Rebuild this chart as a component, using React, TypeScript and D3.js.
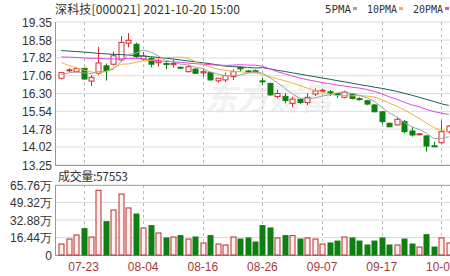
import React from "react";
import * as d3 from "d3";

const dates = ["07-20","07-21","07-22","07-23","07-26","07-27","07-28","07-29","07-30","08-02","08-03","08-04","08-05","08-06","08-09","08-10","08-11","08-12","08-13","08-16","08-17","08-18","08-19","08-20","08-23","08-24","08-25","08-26","08-27","08-30","08-31","09-01","09-02","09-03","09-06","09-07","09-08","09-09","09-10","09-13","09-14","09-15","09-16","09-17","09-22","09-23","09-24","09-27","09-28","09-29","09-30","10-08","10-11"];
const open = [16.95,17.28,17.23,17.37,16.83,17.16,17.48,17.55,17.73,18.45,18.40,17.77,17.80,17.61,17.58,17.53,17.42,17.23,17.34,17.18,17.19,16.84,16.88,17.02,17.42,17.26,17.27,16.84,16.73,16.17,16.18,15.88,16.05,15.91,16.28,16.40,16.37,16.30,16.14,16.28,16.08,15.99,15.81,15.52,15.03,14.96,15.10,14.70,14.55,14.49,14.07,14.20,14.67];
const high = [17.22,17.38,17.42,17.40,17.09,18.28,17.58,18.08,18.75,18.87,18.47,18.08,17.85,17.80,17.66,17.73,17.45,17.52,17.38,17.37,17.22,16.96,17.19,17.33,17.45,17.30,17.32,16.96,16.76,16.45,16.31,16.16,16.08,16.31,16.52,16.50,16.45,16.33,16.42,16.32,16.14,16.03,15.85,15.56,15.06,15.28,15.17,14.88,14.60,14.52,14.24,15.14,14.95];
const low = [16.90,17.22,17.20,16.88,16.62,17.09,16.85,17.49,17.66,18.27,17.82,17.70,17.42,17.45,17.33,17.40,17.35,17.20,17.14,17.02,16.85,16.76,16.78,16.88,17.24,17.18,17.20,16.66,16.20,16.09,15.88,15.71,15.85,15.81,16.19,16.33,16.20,16.10,16.09,16.05,16.00,15.80,15.50,15.00,14.86,14.94,14.60,14.46,14.52,13.82,14.05,14.15,14.60];
const close = [17.19,17.31,17.36,16.92,16.99,17.60,17.28,17.91,18.48,18.57,17.87,17.90,17.55,17.68,17.54,17.58,17.38,17.44,17.16,17.23,16.88,16.95,17.06,17.23,17.35,17.23,17.25,16.80,16.24,16.30,16.00,16.06,15.92,16.14,16.41,16.44,16.34,16.27,16.36,16.09,16.05,15.85,15.52,15.10,14.88,15.20,14.67,14.53,14.58,14.06,14.06,14.67,14.91];
const volume = [10.3,15,18.8,24.7,16.9,60.8,31.3,42.3,57.3,44.2,38.5,25.4,27.6,20.7,16,16.9,18.2,15,16.9,11.3,18.2,10.3,9.4,16.9,15,16,12.2,27.6,25.4,16,18.2,18.2,15,16,15,10.3,11.3,13.1,16.9,16,13.1,9.4,13.1,16,9.4,9.4,15,10.3,7.5,19.1,7.5,16,11.3];
const ma5 = [17.10,17.18,17.22,17.18,17.15,17.24,17.23,17.34,17.65,17.97,18.02,18.15,18.07,17.91,17.71,17.65,17.55,17.52,17.42,17.36,17.22,17.13,17.06,17.07,17.09,17.16,17.22,17.17,16.97,16.76,16.52,16.28,16.10,16.08,16.11,16.19,16.25,16.32,16.36,16.30,16.22,16.12,15.97,15.72,15.48,15.31,15.07,14.88,14.77,14.61,14.38,14.38,14.46];
const ma10 = [17.62,17.50,17.40,17.30,17.22,17.17,17.24,17.40,17.55,17.56,17.63,17.69,17.71,17.78,17.84,17.84,17.85,17.80,17.67,17.53,17.43,17.34,17.29,17.25,17.23,17.19,17.18,17.11,17.02,16.93,16.84,16.75,16.64,16.53,16.44,16.36,16.27,16.21,16.22,16.20,16.21,16.19,16.15,16.04,15.89,15.77,15.60,15.43,15.25,15.04,14.85,14.73,14.67];
const ma20 = [17.86,17.85,17.84,17.82,17.80,17.80,17.78,17.78,17.78,17.80,17.80,17.78,17.72,17.69,17.67,17.65,17.63,17.60,17.57,17.55,17.53,17.51,17.50,17.51,17.53,17.51,17.51,17.46,17.35,17.23,17.14,17.05,16.96,16.89,16.83,16.77,16.72,16.66,16.62,16.57,16.53,16.47,16.39,16.29,16.16,16.06,15.93,15.82,15.74,15.62,15.53,15.46,15.41];
const ma60 = [18.13,18.11,18.09,18.07,18.04,18.01,17.99,17.97,17.96,17.94,17.92,17.90,17.87,17.84,17.81,17.77,17.73,17.69,17.65,17.61,17.57,17.52,17.47,17.45,17.43,17.41,17.39,17.40,17.35,17.29,17.24,17.18,17.13,17.07,17.02,16.96,16.91,16.85,16.80,16.74,16.68,16.63,16.57,16.52,16.46,16.39,16.31,16.23,16.14,16.05,15.96,15.86,15.79];
const priceTicks = [13.25,14.02,14.78,15.54,16.30,17.06,17.82,18.58,19.35];
const volTicks = [0,16.44,32.88,49.32,65.76];
const volTickLabels = ["0","16.44万","32.88万","49.32万","65.76万"];
const dateTicks = ["07-23","08-04","08-16","08-26","09-07","09-17","10-08"];
const title = "深科技[000021] 2021-10-20 15:00";
const volTitle = "成交量:57553";
const legend = [
  { name: "5PMA", color: "#a3a3a3" },
  { name: "10PMA", color: "#f0b43c" },
  { name: "20PMA", color: "#e046e0" },
];

const RED = "#d82a2a";
const GREEN = "#0f7f12";

export default function App() {
  const W = 450, H = 276;
  const L = 55;
  const x = d3.scaleBand<string>().domain(dates).range([56.25, 56.25 + dates.length * 7.5]).padding(0.33);
  const cx = (d: string) => (x(d) as number) + x.bandwidth() / 2;
  const y = d3.scaleLinear().domain([13.25, 19.35]).range([165, 22]);
  const yv = d3.scaleLinear().domain([0, 65.76]).range([255, 185]);
  const isUp = (i: number) => close[i] > open[i] || (close[i] === open[i] && (i === 0 || close[i] >= close[i - 1]));
  const mkLine = (arr: number[]) =>
    d3.line<number>().x((_, i) => cx(dates[i])).y((v) => y(v))(arr) as string;
  const font = "'Liberation Sans', Arial, sans-serif";
  const bw = x.bandwidth();

  return (
    <div style={{ position: "absolute", left: 0, top: 0 }}>
      <svg width={W} height={H} style={{ display: "block", background: "#fff" }}>
        <defs>
          <clipPath id="plot"><rect x={L} y={0} width={W - L} height={H} /></clipPath>
        </defs>
        {/* watermark */}
        <text x={205} y={110} fontSize={32} fontWeight="bold" fontStyle="italic" fill="#000" opacity={0.05}
          fontFamily="'Noto Sans CJK SC'">东方财富</text>
        {/* grids */}
        {priceTicks.map((t) => (
          <line key={"pg" + t} x1={L} x2={W} y1={y(t)} y2={y(t)} stroke="#dcdcdc" strokeWidth={1} />
        ))}
        {volTicks.map((t) => (
          <line key={"vg" + t} x1={L} x2={W} y1={yv(t)} y2={yv(t)} stroke="#dcdcdc" strokeWidth={1} />
        ))}
        {dateTicks.map((d) => (
          <g key={"vd" + d}>
            <line x1={Math.round(cx(d)) + 0.5} x2={Math.round(cx(d)) + 0.5} y1={22} y2={165} stroke="#bbb" strokeDasharray="3,3" />
            <line x1={Math.round(cx(d)) + 0.5} x2={Math.round(cx(d)) + 0.5} y1={185} y2={255} stroke="#bbb" strokeDasharray="3,3" />
          </g>
        ))}
        <line x1={L + 0.5} x2={L + 0.5} y1={22} y2={165} stroke="#999" />
        <line x1={L} x2={W} y1={165.5} y2={165.5} stroke="#999" />
        <line x1={L + 0.5} x2={L + 0.5} y1={185} y2={255} stroke="#999" />
        <line x1={L} x2={W} y1={255.5} y2={255.5} stroke="#999" />
        <line x1={L} x2={W} y1={185.5} y2={185.5} stroke="#aaa" />

        {/* axis labels */}
        {priceTicks.map((t) => (
          <text key={"pl" + t} x={52} y={y(t) + 4.5} textAnchor="end" fontSize={12} fill="#333" fontFamily={font}>
            {t.toFixed(2)}
          </text>
        ))}
        {volTicks.map((t, i) => (
          <text key={"vl" + t} x={52} y={yv(t) + 4.5} textAnchor="end" fontSize={12} fill="#333" fontFamily={font}>
            {volTickLabels[i]}
          </text>
        ))}
        {dateTicks.map((d) => (
          <text key={"dl" + d} x={cx(d)} y={271} textAnchor="middle" fontSize={12} fill="#a83a3a" fontFamily={font}>
            {d}
          </text>
        ))}

        <g clipPath="url(#plot)">
          {dates.map((d, i) => {
            const up = isUp(i);
            const c = up ? RED : GREEN;
            const xc = Math.round(cx(d)) + 0.5;
            const top = y(Math.max(open[i], close[i]));
            const bot = y(Math.min(open[i], close[i]));
            const bh = Math.max(1, bot - top);
            return (
              <g key={"c" + d}>
                <line x1={xc} x2={xc} y1={y(high[i])} y2={top} stroke={c} />
                <line x1={xc} x2={xc} y1={top + bh} y2={y(low[i])} stroke={c} />
                <rect x={xc - bw / 2} y={top} width={bw} height={bh}
                  fill={up ? "#fff" : c} stroke={c} strokeWidth={1} />
              </g>
            );
          })}
          <path d={mkLine(ma60)} fill="none" stroke="#1f5c55" strokeWidth={1} />
          <path d={mkLine(ma20)} fill="none" stroke={legend[2].color} strokeWidth={1} />
          <path d={mkLine(ma10)} fill="none" stroke={legend[1].color} strokeWidth={1} />
          <path d={mkLine(ma5)} fill="none" stroke={legend[0].color} strokeWidth={1} />
          {dates.map((d, i) => {
            const up = isUp(i);
            const xc = Math.round(cx(d)) + 0.5;
            return (
              <rect key={"v" + d} x={xc - bw / 2} y={yv(volume[i])} width={bw} height={255 - yv(volume[i])}
                fill={up ? "#fff0f0" : GREEN} stroke={up ? "#b52a2a" : GREEN} strokeWidth={1} />
            );
          })}
        </g>

        <text x={55} y={14} fontSize={12} fill="#333" fontFamily="'Noto Sans CJK SC', sans-serif"
          textLength={185} lengthAdjust="spacing">{title}</text>
        <text x={58} y={181} fontSize={12} fill="#333" fontFamily="'Noto Sans CJK SC', sans-serif"
          textLength={70} lengthAdjust="spacing">{volTitle}</text>
        {legend.map((l, i) => {
          const lx = [325, 367, 413][i];
          const w = [26, 30, 30][i];
          return (
            <g key={l.name}>
              <text x={lx} y={13} fontSize={11} fill="#333" fontFamily="'DejaVu Sans Mono', monospace"
                textLength={w} lengthAdjust="spacingAndGlyphs">{l.name}</text>
              <rect x={lx + w + 2} y={7} width={4} height={3} fill={l.color} />
            </g>
          );
        })}
      </svg>
    </div>
  );
}
